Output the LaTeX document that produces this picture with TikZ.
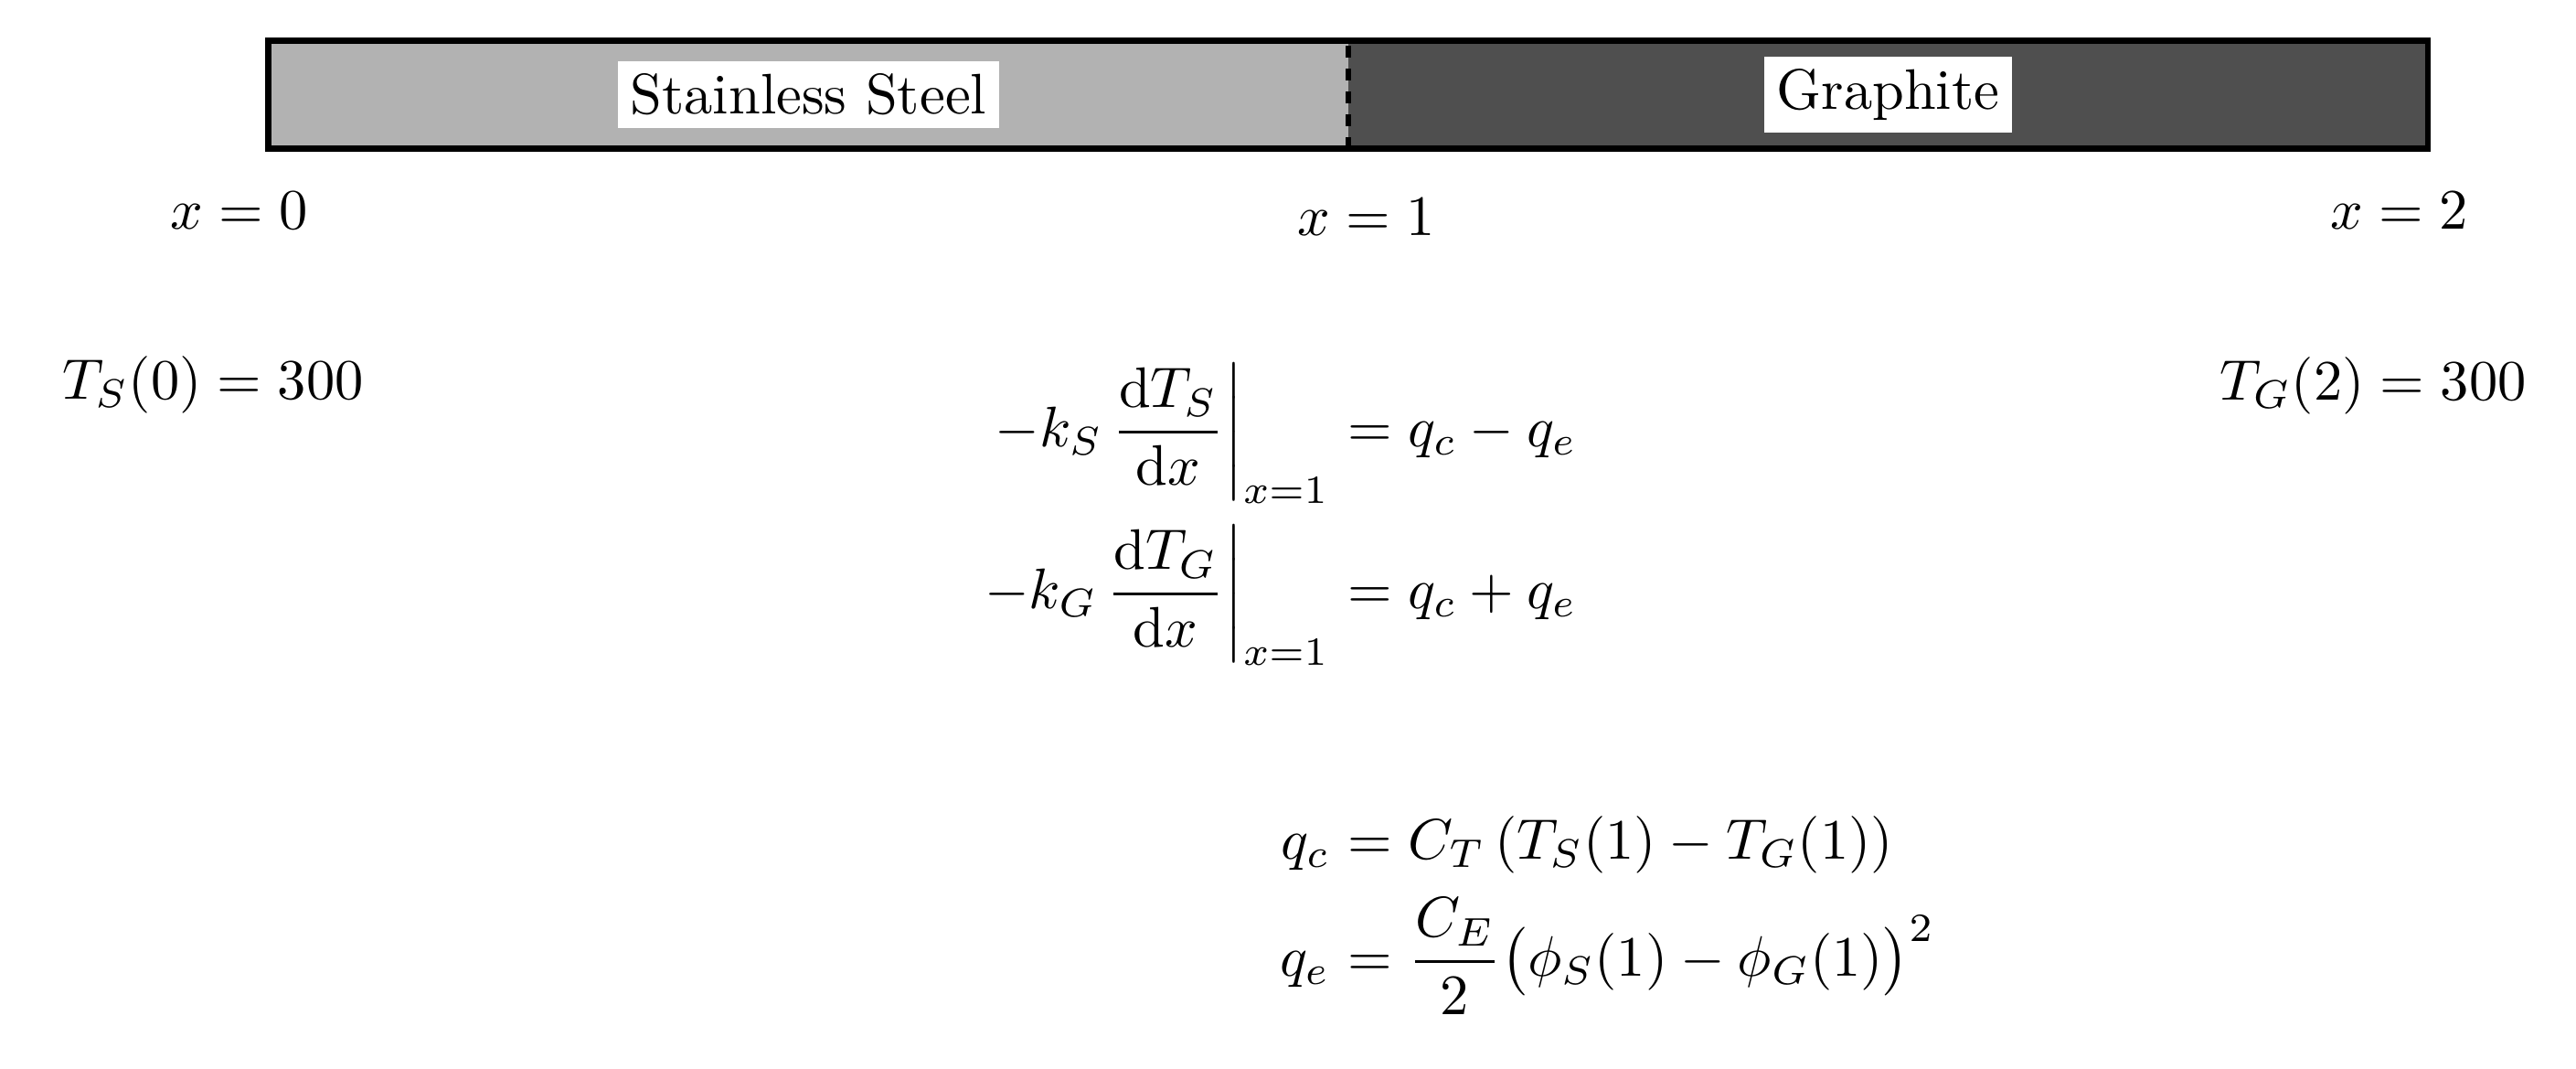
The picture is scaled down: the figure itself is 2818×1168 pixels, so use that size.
\documentclass[tikz,border=0pt]{standalone}
\usepackage{amsmath}
\definecolor{steelgray}{gray}{0.70}
\definecolor{graphitegray}{gray}{0.31}
\begin{document}
\begin{tikzpicture}[x=0.16pt,y=-0.16pt,
  border/.style={line width=1.05pt},
  iface/.style={line width=1.05pt, dash pattern=on 2pt off 2pt},
  matlabel/.style={fill=white, inner sep=2.2pt},
  eqL/.style={anchor=base east, inner sep=0pt},
  eqR/.style={anchor=base west, inner sep=0pt},
  lbl/.style={anchor=base, inner sep=0pt}]
\useasboundingbox (0,0) rectangle (2818,1168);
% bar
\coordinate (tl) at (293.7,44.5);
\coordinate (br) at (2656,162.5);
\coordinate (itop) at (1475,44.5);
\coordinate (ibot) at (1475,162.5);
\fill[steelgray] (tl) rectangle (ibot);
\fill[graphitegray] (itop) rectangle (br);
\draw[iface] (ibot) -- (itop);
\draw[border] (tl) rectangle (br);
\node[matlabel] (ss) at (884.4,103.5) {Stainless Steel};
\node[matlabel] (gr) at (2065.5,103.5) {Graphite};
% positions
\node[lbl] (x0) at (262,250) {$x=0$};
\node[lbl] (x1) at (1495,257) {$x=1$};
\node[lbl] (x2) at (2625,250) {$x=2$};
% boundary conditions
\node[lbl] (bcS) at (233,436) {$T_S(0)=300$};
\node[lbl] (bcG) at (2596,437) {$T_G(2)=300$};
% interface conditions
\node[eqL] (e1l) at (1456,488) {$\displaystyle \left.-k_S\,\frac{\mathrm{d}T_S}{\mathrm{d}x}\right|_{x=1}$};
\node[eqR] (e1r) at (1456,488) {$\displaystyle {}= q_c - q_e$};
\node[eqL] (e2l) at (1456,665) {$\displaystyle \left.-k_G\,\frac{\mathrm{d}T_G}{\mathrm{d}x}\right|_{x=1}$};
\node[eqR] (e2r) at (1456,665) {$\displaystyle {}= q_c + q_e$};
\node[eqL] (e3l) at (1456,939) {$\displaystyle q_c$};
\node[eqR] (e3r) at (1456,939) {$\displaystyle {}= C_T\left(T_S(1)-T_G(1)\right)$};
\node[eqL] (e4l) at (1456,1067) {$\displaystyle q_e$};
\node[eqR] (e4r) at (1456,1067) {$\displaystyle {}= {\frac{C_E}{2}}\bigl(\phi_S(1)-\phi_G(1)\bigr)^2$};
\end{tikzpicture}
\end{document}
